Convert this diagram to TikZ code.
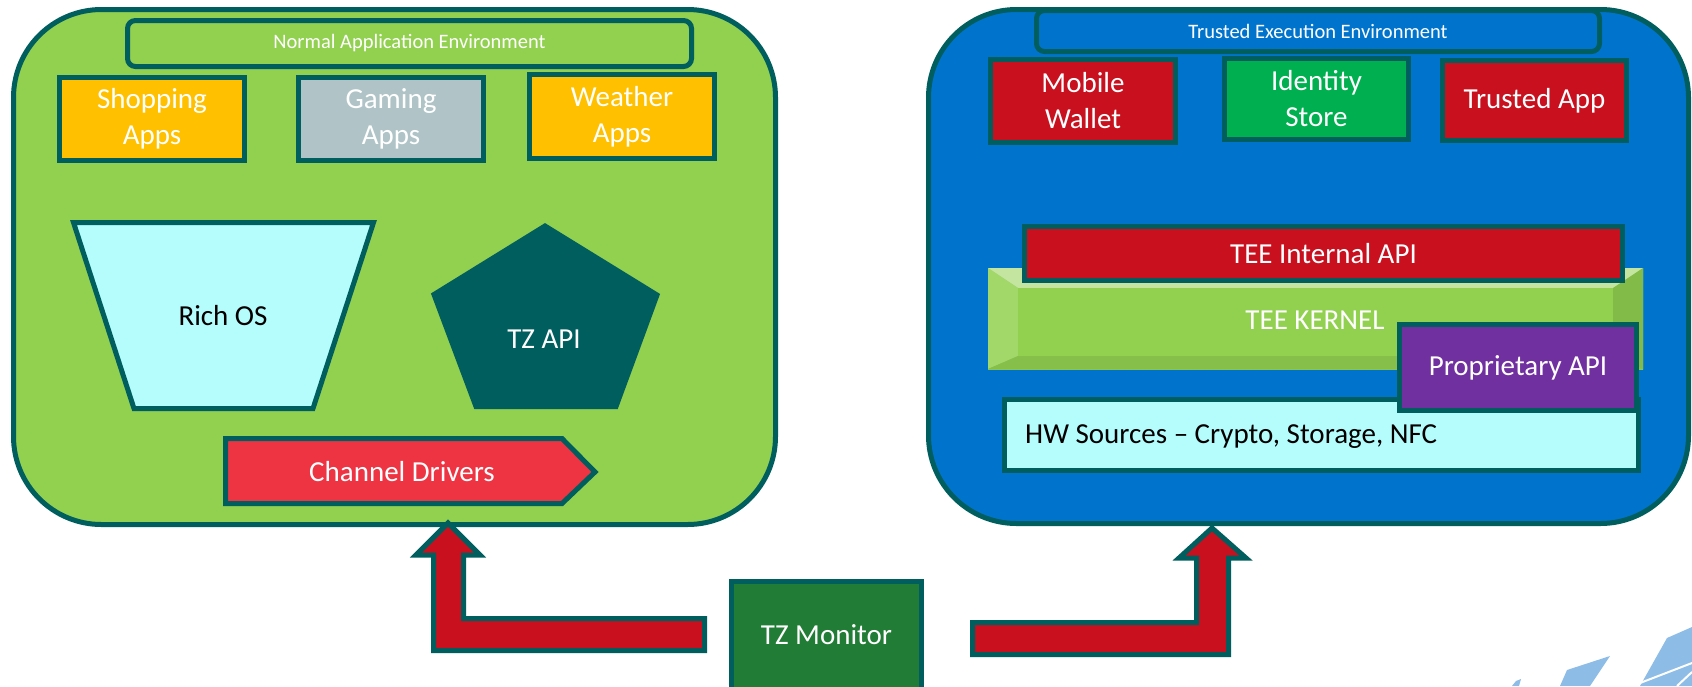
\documentclass[tikz,border=0pt]{standalone}
\usepackage{fontspec}
\setmainfont{Carlito}
\definecolor{edge}{RGB}{0,94,94}
\definecolor{lgreen}{RGB}{146,208,80}
\definecolor{tblue}{RGB}{0,116,204}
\definecolor{appor}{RGB}{255,192,0}
\definecolor{appgr}{RGB}{176,196,200}
\definecolor{tred}{RGB}{200,16,30}
\definecolor{idgreen}{RGB}{0,176,80}
\definecolor{lcyan}{RGB}{181,253,253}
\definecolor{chred}{RGB}{238,52,66}
\definecolor{mongreen}{RGB}{33,124,53}
\definecolor{tpurple}{RGB}{112,48,160}
\definecolor{logoblue}{RGB}{141,188,230}
\newcommand\bigf{\fontsize{29}{36}\selectfont}
\newcommand\smallf{\fontsize{20.5}{24}\selectfont}
\begin{document}
\begin{tikzpicture}[x=1pt,y=-1pt,
  outline/.style={draw=edge, line width=5pt, line join=miter},
  box/.style={outline, inner sep=0pt, text=white, font=\bigf, align=center},
  envbox/.style={outline, rounded corners=88pt, inner sep=0pt},
  labbox/.style={outline, rounded corners=8pt, inner sep=0pt, text=white, font=\smallf},
  plain/.style={inner sep=0pt, font=\bigf, align=center}]
\useasboundingbox (0,0) rectangle (1692,686);

% environments
\node[envbox, fill=lgreen, minimum width=762, minimum height=515] (normal) at (394.5,267) {};
\node[envbox, fill=tblue, minimum width=760, minimum height=514] (trusted) at (1308.5,266.5) {};

% normal side
\node[labbox, fill=lgreen, minimum width=564, minimum height=46] (nae) at (409.5,43.5) {Normal Application Environment};
\node[box, fill=appor, minimum width=185, minimum height=83] (shop) at (152,119) {Shopping\\Apps};
\node[box, fill=appgr, minimum width=185, minimum height=83] (game) at (391,119) {Gaming\\Apps};
\node[box, fill=appor, minimum width=185, minimum height=84] (weather) at (622,116.5) {Weather\\Apps};

\draw[outline, fill=lcyan] (73.5,222.5) -- (373.5,222.5) -- (313,408.5) -- (134,408.5) -- cycle;
\node[plain, text=black] (richos) at (223,316) {Rich OS};

\draw[outline, fill=edge] (545,226) -- (657,295) -- (616,406.5) -- (476,406.5) -- (434,294.5) -- cycle;
\node[plain, text=white] (tzapi) at (544,339) {TZ API};

\draw[outline, fill=chred] (225.5,438.5) -- (562,438.5) -- (595,472) -- (562,503.5) -- (225.5,503.5) -- cycle;
\node[plain, text=white] (chdrv) at (402,472) {Channel Drivers};

% trusted side
\node[labbox, fill=tblue, minimum width=563, minimum height=41] (tee) at (1318,31) {Trusted Execution Environment};
\node[box, fill=tred, minimum width=185, minimum height=83] (wallet) at (1083,101) {Mobile\\Wallet};
\node[box, fill=idgreen, minimum width=184, minimum height=81] (ident) at (1316.5,99) {Identity\\Store};
\node[box, fill=tred, minimum width=184, minimum height=80] (tapp) at (1534.5,100.5) {Trusted App};

% kernel bevel
\node[inner sep=0pt, minimum width=655, minimum height=101, top color=lgreen!75!white, bottom color=lgreen!95!black] (kernel) at (1315.5,318.5) {};
\fill[lgreen!55!white] (988,268) -- (1643,268) -- (1613,288) -- (1018,288) -- cycle;
\fill[lgreen!85!white] (988,268) -- (1018,288) -- (1018,356) -- (988,369) -- cycle;
\fill[lgreen!90!black] (1643,268) -- (1613,288) -- (1613,356) -- (1643,369) -- cycle;
\fill[lgreen!92!black] (988,369) -- (1018,356) -- (1613,356) -- (1643,369) -- cycle;
\fill[lgreen] (1018,288) rectangle (1613,356);
\node[plain, text=white] (kerneltxt) at (1315,320) {TEE KERNEL};

\node[box, fill=tred, minimum width=598, minimum height=54] (teeint) at (1323.5,253.5) {TEE Internal API};
\node[box, fill=lcyan, minimum width=634, minimum height=71] (hw) at (1321.5,435) {};
\node[plain, text=black, anchor=west] (hwtxt) at (1025,437) {HW Sources – Crypto, Storage, NFC};
\node[box, fill=tpurple, minimum width=237, minimum height=86] (prop) at (1518,367.5) {Proprietary API};

% monitor
\node[box, fill=mongreen, minimum width=190, minimum height=116] (mon) at (826.5,639) {};
\node[plain, text=white] (montxt) at (826.5,635) {TZ Monitor};

% block arrows
\draw[outline, fill=tred] (448,523) -- (480,555) -- (463.5,555) -- (463.5,618.5) -- (704.5,618.5) -- (704.5,650.5) -- (433.5,650.5) -- (433.5,555) -- (416,555) -- cycle;
\draw[outline, fill=tred] (1212,528) -- (1246,558) -- (1228.5,558) -- (1228.5,654.5) -- (972.5,654.5) -- (972.5,622.5) -- (1196.5,622.5) -- (1196.5,558) -- (1179,558) -- cycle;

% logo fragment
\fill[logoblue] (1560,686) -- (1567,670) -- (1610,656) -- (1590,686) -- cycle;
\fill[logoblue] (1640,686) -- (1667,638) -- (1692,627) -- (1692,686) -- cycle;
\fill[logoblue] (1512,686) -- (1516,681) -- (1521,679) -- (1519,686) -- cycle;
\draw[white, line width=2pt] (1640,683) -- (1692,663);
\draw[white, line width=2pt] (1677,686) -- (1692,672);
\end{tikzpicture}
\end{document}
